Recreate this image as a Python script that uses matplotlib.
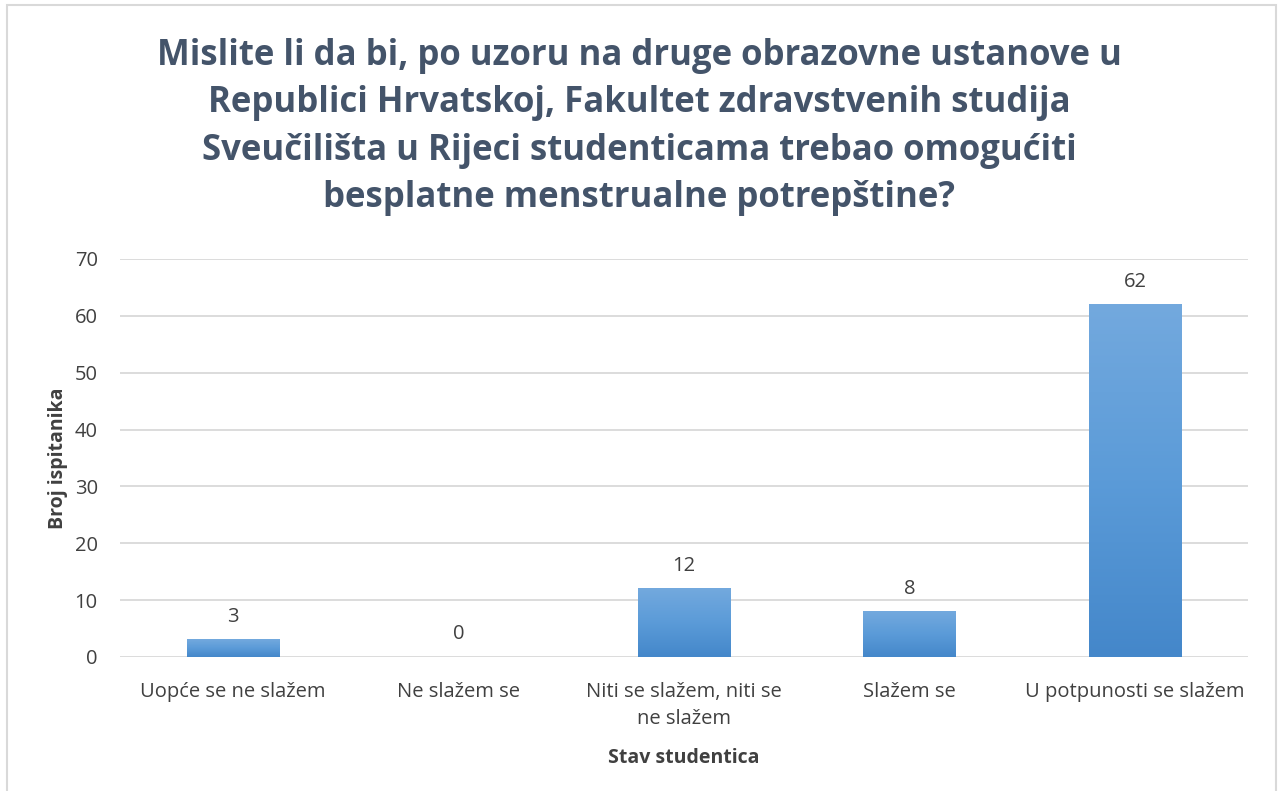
import numpy as np
import matplotlib.pyplot as plt
from matplotlib.colors import LinearSegmentedColormap
from matplotlib.patches import Rectangle

# podaci
categories = ['Uopće se ne slažem', 'Ne slažem se', 'Niti se slažem, niti se\nne slažem',
              'Slažem se', 'U potpunosti se slažem']
values = [3, 0, 12, 8, 62]
yticks = [0, 10, 20, 30, 40, 50, 60, 70]

title = ('Mislite li da bi, po uzoru na druge obrazovne ustanove u\n'
         'Republici Hrvatskoj, Fakultet zdravstvenih studija\n'
         'Sveučilišta u Rijeci studenticama trebao omogućiti\n'
         'besplatne menstrualne potrepštine?')

plt.rcParams['font.family'] = ['Open Sans', 'DejaVu Sans']

fig = plt.figure(figsize=(12.78, 7.91), dpi=100)
ax = fig.add_axes([120 / 1278, 1 - 657 / 791, 1128 / 1278, 398 / 791])

# okvir slike
fig.patches.append(Rectangle((7 / 1278, -0.01), 1269 / 1278, 1 - 5 / 791 + 0.01,
                             transform=fig.transFigure, fill=False,
                             edgecolor='#D9D9D9', linewidth=1.5))

x = np.arange(len(categories))
width = 0.41
cmap = LinearSegmentedColormap.from_list('bar', ['#4487CA', '#5B9BD8', '#73A9DE'])
grad = np.linspace(0, 1, 256).reshape(-1, 1)

bars = ax.bar(x, values, width=width, color='none', zorder=3)
for xi, v in zip(x, values):
    if v > 0:
        ax.imshow(grad, cmap=cmap, origin='lower', aspect='auto',
                  extent=(xi - width / 2, xi + width / 2, 0, v), zorder=3)
    ax.text(xi, v + 2.2, str(v), ha='center', va='bottom', fontsize=14.5, color='#404040')

ax.set_xlim(-0.5, len(categories) - 0.5)
ax.set_ylim(0, 70)
ax.set_yticks(yticks)
ax.set_xticks(x)
ax.set_xticklabels(categories, fontsize=14.5, color='#404040', linespacing=1.45)
ax.tick_params(axis='y', labelsize=14.5, labelcolor='#404040', length=0, pad=16)
ax.tick_params(axis='x', length=0, pad=18)
ax.grid(axis='y', color='#D9D9D9', linewidth=1.3, zorder=0)
for s in ax.spines.values():
    s.set_visible(False)
ax.set_axisbelow(True)

ax.set_ylabel('Broj ispitanika', fontsize=14, fontweight='bold', color='#404040', labelpad=5)
ax.set_xlabel('Stav studentica', fontsize=14, fontweight='bold', color='#404040', labelpad=14)

fig.text(0.5, 0.952, title, ha='center', va='top', fontsize=25, fontweight='bold',
         color='#44546A', linespacing=1.42)

fig.savefig('out.png', dpi=100)
